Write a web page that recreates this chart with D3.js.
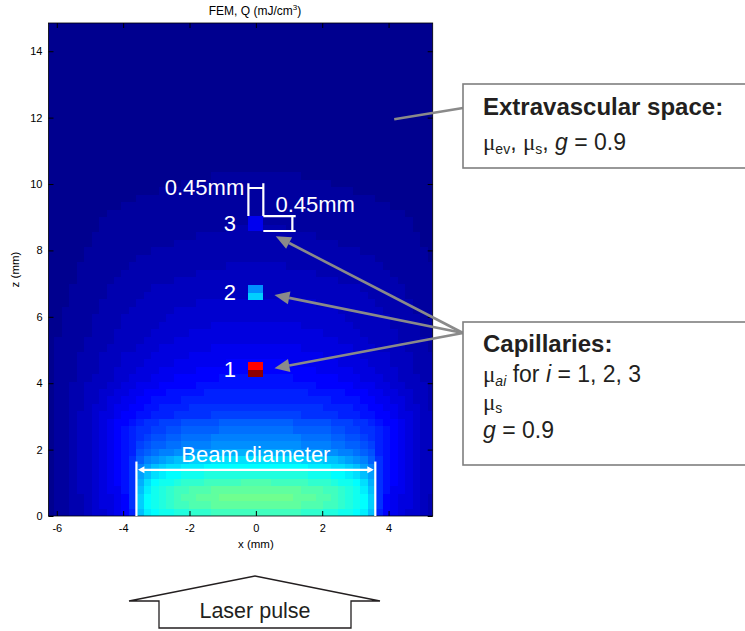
<!DOCTYPE html>
<html>
<head>
<meta charset="utf-8">
<script src="https://cdn.jsdelivr.net/npm/d3@7"></script>
<style>
  html, body { margin: 0; padding: 0; background: #ffffff; }
  svg { display: block; font-family: "Liberation Sans", Arial, Helvetica, sans-serif; }
</style>
</head>
<body>
<svg id="chart" width="745" height="631"></svg>
<script>
// ---------------------------------------------------------------------------
// Data
// ---------------------------------------------------------------------------
// FEM fluence Q(x, z) sampled on a 0.225 mm grid and stored as 64-step jet
// colour levels. Each row is run-length coded ("level*count"), 52 columns from
// x = -6.3 mm rightwards; rows run from the deepest (top of plot) to z = 0.
const cellSize = 0.225;   // mm
const gridX0 = -6.3;      // left edge of column 0 (mm)
const nCols = 52;
const qRows = [
  "0*52", "0*52", "0*52", "0*52", "0*52", "0*52", "0*52",
  "0*52", "0*52", "0*52", "0*52", "0*52", "0*52", "0*52",
  "0*52", "0*52", "0*52", "0*52", "0*52", "0*52", "0*52",
  "0*22 1*12 0*18",
  "0*18 1*20 0*14",
  "0*15 1*26 0*11",
  "0*12 1*32 0*8",
  "0*10 1*36 0*6",
  "0*8 1*40 0*4",
  "0*7 1*42 0*3",
  "0*7 1*17 2*8 1*17 0*3",
  "0*6 1*14 2*16 1*14 0*2",
  "0*6 1*11 2*22 1*11 0*2",
  "0*5 1*9 2*28 1*9 0",
  "0*5 1*7 2*32 1*7 0",
  "0*4 1*7 2*13 3*8 2*13 1*7",
  "0*4 1*6 2*10 3*16 2*10 1*6",
  "0*4 1*5 2*8 3*22 2*8 1*5",
  "0*3 1*5 2*6 3*28 2*6 1*4",
  "0*3 1*5 2*5 3*30 2*5 1*4",
  "0*3 1*4 2*5 3*8 4*16 3*8 2*5 1*3",
  "0*2 1*5 2*4 3*6 4*22 3*6 2*4 1*3",
  "0*2 1*4 2*4 3*6 4*24 3*6 2*4 1*2",
  "0*2 1*4 2*4 3*5 4*7 5*12 4*7 3*5 2*4 1*2",
  "0*2 1*4 2*3 3*5 4*5 5*18 4*5 3*5 2*3 1*2",
  "0 1*4 2*4 3*4 4*4 5*22 4*4 3*4 2*4 1",
  "0 1*4 2*3 3*4 4*3 5*7 6*12 5*7 4*3 3*4 2*3 1",
  "0 1*3 2*3 3*3 4*4 5*5 6*18 5*5 4*4 3*3 2*3",
  "0 1*3 2*3 3*3 4*3 5*4 6*7 7*8 6*7 5*4 4*3 3*3 2*3",
  "0 1*3 2*3 3*2 4*3 5*3 6*5 7*16 6*5 5*3 4*3 3*2 2*3",
  "0 1*3 2*2 3*3 4*2 5*3 6*3 7*6 8*10 7*6 6*3 5*3 4*2 3*3 2*2",
  "0 1*2 2*2 3*3 4*2 5*2 6*3 7*5 8*16 7*5 6*3 5*2 4*2 3*3 2",
  "0 1*2 2*2 3*2 4*2 5*2 6*2 7*3 8*5 9*14 8*5 7*3 6*2 5*2 4*2 3*2 2",
  "0 1*2 2*2 3*2 4 5*2 6*2 7*2 8*4 9*20 8*4 7*2 6*2 5*2 4 3*2 2",
  "0 1*2 2*2 3 4*2 5 6*2 7*2 8*2 9*4 10*18 9*4 8*2 7*2 6*2 5 4*2 3 2",
  "0 1*2 2 3*2 4 5*2 6 7*2 8*2 9*3 10*5 11*12 10*5 9*3 8*2 7*2 6 5*2 4 3*2",
  "0 1*2 2 3*2 4 5 6 7*2 8 9 10*2 11*3 12*5 13*10 12*5 11*3 10*2 9 8 7*2 6 5 4 3*2",
  "0 1*2 2 3*2 4 5 6 7 8 9 10*2 11*2 12*2 13*5 14*10 13*5 12*2 11*2 10*2 9 8 7 6 5 4 3*2",
  "0 1*2 2 3*2 4 5 6 7 8 9 10 11 12*2 13*2 14*4 15*12 14*4 13*2 12*2 11 10 9 8 7 6 5 4 3*2",
  "0 1*2 2 3*2 4 5 6 7 8 9 11 12 13*2 14*2 15*4 16*12 15*4 14*2 13*2 12 11 9 8 7 6 5 4 3*2",
  "0 1*2 2 3*2 4 5 6 7 8 9 12 13 14 15*2 16*2 17*4 18*10 17*4 16*2 15*2 14 13 12 9 8 7 6 5 4 3*2",
  "0 1*2 2 3*2 4 5 6 7 8 10 13 15 16 17 18 19*2 20*3 21*12 20*3 19*2 18 17 16 15 13 10 8 7 6 5 4 3*2",
  "0 1*2 2 3*2 4 5 6 7 8 10 15 17 19 20 21*2 22*3 23*14 22*3 21*2 20 19 17 15 10 8 7 6 5 4 3*2",
  "0 1*2 2 3*2 4 5 6 7 8 10 17 19 21 22 23*2 24*3 25*14 24*3 23*2 22 21 19 17 10 8 7 6 5 4 3*2",
  "0 1*2 2 3*2 4 5 6 7 8 10 18 21 23 24*2 25 26*3 27*5 28*4 27*5 26*3 25 24*2 23 21 18 10 8 7 6 5 4 3*2",
  "0 1*2 2 3*2 4 5 6*2 8 10 19 22 24 25 26 27*2 28*3 29*12 28*3 27*2 26 25 24 22 19 10 8 6*2 5 4 3*2",
  "0 1*2 2*2 3 4 5*2 6 7 10 20 23 24 25 26 27 28*2 29*3 30*10 29*3 28*2 27 26 25 24 23 20 10 7 6 5*2 4 3 2",
  "0 1*2 2*2 3 4 5*2 6 7 10 20 23 24 25 26 27*2 28*3 29*12 28*3 27*2 26 25 24 23 20 10 7 6 5*2 4 3 2",
  "0 1*2 2*2 3 4*2 5 6 7 9 19 22 23 24*2 25*2 26*3 27*12 26*3 25*2 24*2 23 22 19 9 7 6 5 4*2 3 2"
];

// Capillaries: 0.45 mm squares on the beam axis, upper / lower half levels
const capillaryLabels = ["1", "2", "3"];
const capillaryDepth = [4.40, 6.72, 8.81];      // centre depth z (mm)
const capillaryLevelTop = [55, 16, 6];
const capillaryLevelBottom = [62, 20, 6];
const capillarySize = 0.45;                       // mm

const beamDiameter = 7.2;                         // mm
const xTicks = [-6, -4, -2, 0, 2, 4];
const zTicks = [0, 2, 4, 6, 8, 10, 12, 14];

// ---------------------------------------------------------------------------
// Colour map: MATLAB-style jet with 64 steps
// ---------------------------------------------------------------------------
function jetPalette(n) {
  const m = n / 4, len = 3 * m - 1;
  const off = Math.ceil(m / 2) - (n % 4 === 1 ? 1 : 0);
  const u = k => (k < 1 || k > len) ? 0 : (k <= m ? k / m : (k < 2 * m ? 1 : (3 * m - k) / m));
  const out = [];
  for (let i = 1; i <= n; i++) {
    out.push(d3.rgb(255 * u(i - off - m), 255 * u(i - off), 255 * u(i - off + m)).formatHex());
  }
  return out;
}
const jet = jetPalette(64);
const color = d3.scaleQuantize().domain([0, 64]).range(jet);

function decodeRow(s) {
  const out = [];
  s.trim().split(/\s+/).forEach(tok => {
    const [lv, n] = tok.split("*");
    const count = n === undefined ? 1 : +n;
    for (let k = 0; k < count; k++) out.push(+lv);
  });
  return out;
}

// ---------------------------------------------------------------------------
// Layout
// ---------------------------------------------------------------------------
const svg = d3.select("#chart");
const plot = { left: 48.5, right: 432.7, top: 23, bottom: 516 };
const x = d3.scaleLinear().domain([-6.25, 5.33]).range([plot.left, plot.right]);
const z = d3.scaleLinear().domain([0, 14.85]).range([plot.bottom, plot.top]);

svg.append("defs").append("clipPath").attr("id", "plotClip")
  .append("rect")
  .attr("x", plot.left).attr("y", plot.top)
  .attr("width", plot.right - plot.left).attr("height", plot.bottom - plot.top);

// Heat map cells
const cells = [];
qRows.forEach((row, k) => {
  const j = qRows.length - 1 - k;          // depth index from the surface
  const levels = decodeRow(row);
  for (let i = 0; i < nCols; i++) {
    const lv = levels[i] !== undefined ? levels[i] : levels[levels.length - 1];
    cells.push({ x0: gridX0 + i * cellSize, z0: j * cellSize, level: lv });
  }
});

const heat = svg.append("g").attr("clip-path", "url(#plotClip)");
heat.selectAll("rect.cell").data(cells).join("rect")
  .attr("class", "cell")
  .attr("x", d => Math.round(x(d.x0)))
  .attr("y", d => Math.round(z(d.z0 + cellSize)))
  .attr("width", d => Math.round(x(d.x0 + cellSize)) - Math.round(x(d.x0)))
  .attr("height", d => Math.round(z(d.z0)) - Math.round(z(d.z0 + cellSize)))
  .attr("fill", d => color(d.level + 0.5))
  .attr("shape-rendering", "crispEdges");

// Capillaries (two half-cells each)
const capHalves = [];
capillaryDepth.forEach((zc, i) => {
  const h = capillarySize / 2;
  capHalves.push({ x0: -h, x1: h, z0: zc, z1: zc + h, level: capillaryLevelTop[i] });
  capHalves.push({ x0: -h, x1: h, z0: zc - h, z1: zc, level: capillaryLevelBottom[i] });
});
heat.selectAll("rect.cap").data(capHalves).join("rect")
  .attr("class", "cap")
  .attr("x", d => Math.round(x(d.x0)))
  .attr("y", d => Math.round(z(d.z1)))
  .attr("width", d => Math.round(x(d.x1)) - Math.round(x(d.x0)))
  .attr("height", d => Math.round(z(d.z0)) - Math.round(z(d.z1)))
  .attr("fill", d => color(d.level + 0.5))
  .attr("shape-rendering", "crispEdges");

// ---------------------------------------------------------------------------
// Axes (ticks pointing inward, box on all four sides)
// ---------------------------------------------------------------------------
const tickFont = 11;
const plain = d => String(d);
const axB = svg.append("g").attr("transform", `translate(0,${plot.bottom})`)
  .call(d3.axisBottom(x).tickValues(xTicks).tickFormat(plain).tickSizeInner(-5).tickSizeOuter(0).tickPadding(8));
const axL = svg.append("g").attr("transform", `translate(${plot.left},0)`)
  .call(d3.axisLeft(z).tickValues(zTicks).tickFormat(plain).tickSizeInner(-5).tickSizeOuter(0).tickPadding(6));
const axT = svg.append("g").attr("transform", `translate(0,${plot.top})`)
  .call(d3.axisTop(x).tickValues(xTicks).tickSizeInner(-5).tickSizeOuter(0).tickFormat(""));
const axR = svg.append("g").attr("transform", `translate(${plot.right},0)`)
  .call(d3.axisRight(z).tickValues(zTicks).tickSizeInner(-5).tickSizeOuter(0).tickFormat(""));
[axB, axL, axT, axR].forEach(g => {
  g.select(".domain").remove();
  g.selectAll(".tick line").attr("stroke", "#000").attr("stroke-width", 1);
  g.selectAll(".tick text").attr("fill", "#000")
    .style("font-family", "'Liberation Sans', Arial, sans-serif")
    .style("font-size", tickFont + "px");
});
svg.append("rect")
  .attr("x", plot.left).attr("y", plot.top)
  .attr("width", plot.right - plot.left).attr("height", plot.bottom - plot.top)
  .attr("fill", "none").attr("stroke", "#000").attr("stroke-width", 0.8);

// Titles
const title = svg.append("text").attr("x", 255).attr("y", 15)
  .attr("text-anchor", "middle").attr("font-size", 12).attr("fill", "#000");
title.append("tspan").text("FEM, Q (mJ/cm");
title.append("tspan").attr("font-size", 8).attr("dy", -5).text("3");
title.append("tspan").attr("dy", 5).text(")");

svg.append("text").attr("x", x(0)).attr("y", 548)
  .attr("text-anchor", "middle").attr("font-size", 11.5).attr("fill", "#000").text("x (mm)");
svg.append("text").attr("transform", `translate(19,${(plot.top + plot.bottom) / 2}) rotate(-90)`)
  .attr("text-anchor", "middle").attr("font-size", 11.5).attr("fill", "#000").text("z (mm)");

// ---------------------------------------------------------------------------
// White annotations inside the plot
// ---------------------------------------------------------------------------
const white = svg.append("g").attr("stroke", "#fff").attr("fill", "none").attr("stroke-width", 2.2);
const rb = beamDiameter / 2;
// beam edges and diameter arrow
white.append("line").attr("x1", x(-rb)).attr("x2", x(-rb)).attr("y1", z(0)).attr("y2", z(1.64));
white.append("line").attr("x1", x(rb)).attr("x2", x(rb)).attr("y1", z(0)).attr("y2", z(1.64));
const arrowZ = 1.39;
white.append("line").attr("x1", x(-rb) + 6).attr("x2", x(rb) - 6).attr("y1", z(arrowZ)).attr("y2", z(arrowZ));
const headL = [[x(-rb) + 1.5, z(arrowZ)], [x(-rb) + 8, z(arrowZ) - 3.5], [x(-rb) + 8, z(arrowZ) + 3.5]];
const headR = [[x(rb) - 1.5, z(arrowZ)], [x(rb) - 8, z(arrowZ) - 3.5], [x(rb) - 8, z(arrowZ) + 3.5]];
[headL, headR].forEach(p => svg.append("polygon").attr("points", p.join(" ")).attr("fill", "#fff"));
svg.append("text").attr("x", x(0)).attr("y", z(1.64))
  .attr("text-anchor", "middle").attr("font-size", 22).attr("fill", "#fff").text("Beam diameter");

// capillary numbers
svg.selectAll("text.capLabel").data(capillaryLabels).join("text")
  .attr("class", "capLabel")
  .attr("x", x(-0.6))
  .attr("y", (d, i) => z(capillaryDepth[i] - capillarySize / 2))
  .attr("text-anchor", "end").attr("font-size", 22).attr("fill", "#fff")
  .text(d => d);

// 0.45 mm dimension marks on capillary 3
const c3 = capillaryDepth[2], hs = capillarySize / 2;
const dim = d3.path();
dim.moveTo(x(-hs), z(c3 + hs)); dim.lineTo(x(-hs), z(10.02));
dim.moveTo(x(hs), z(c3 + hs)); dim.lineTo(x(hs), z(10.02));
dim.moveTo(x(-hs), z(9.88)); dim.lineTo(x(hs), z(9.88));
dim.moveTo(x(hs), z(c3 + hs)); dim.lineTo(x(1.2), z(c3 + hs));
dim.moveTo(x(hs), z(c3 - hs)); dim.lineTo(x(1.2), z(c3 - hs));
dim.moveTo(x(1.1), z(c3 + hs)); dim.lineTo(x(1.1), z(c3 - hs));
white.append("path").attr("d", dim.toString());
svg.append("text").attr("x", x(-0.35)).attr("y", z(9.67))
  .attr("text-anchor", "end").attr("font-size", 22).attr("fill", "#fff").text("0.45mm");
svg.append("text").attr("x", x(0.59)).attr("y", z(9.17))
  .attr("text-anchor", "start").attr("font-size", 22).attr("fill", "#fff").text("0.45mm");

// ---------------------------------------------------------------------------
// Call-out boxes and grey pointers
// ---------------------------------------------------------------------------
const grey = "#8a8a8a";
function pointer(sx, sy, tx, ty, head) {
  const dx = tx - sx, dy = ty - sy, L = Math.hypot(dx, dy);
  const ux = dx / L, uy = dy / L;
  const bx = tx - ux * (head ? 15 : 0), by = ty - uy * (head ? 15 : 0);
  svg.append("line").attr("x1", sx).attr("y1", sy).attr("x2", bx).attr("y2", by)
    .attr("stroke", grey).attr("stroke-width", 2.6);
  if (head) {
    const nx = -uy, ny = ux, w = 6.5;
    svg.append("polygon")
      .attr("points", [[tx, ty], [bx + nx * w, by + ny * w], [bx - nx * w, by - ny * w]].join(" "))
      .attr("fill", grey);
  }
}
pointer(463, 108, x(4.17), z(11.95), false);
pointer(463, 333, x(0.6), z(8.43), true);
pointer(463, 333, x(0.56), z(6.66), true);
pointer(463, 333, x(0.56), z(4.45), true);

const ink = "#231f20";
function box(y, h) {
  svg.append("rect").attr("x", 463).attr("y", y).attr("width", 300).attr("height", h)
    .attr("fill", "#fff").attr("stroke", "#7f7f7f").attr("stroke-width", 1.6);
}
box(84, 84);
box(322, 143);

const sym = "'Liberation Serif', 'DejaVu Serif', serif";
svg.append("text").attr("x", 483).attr("y", 115).attr("font-size", 24)
  .attr("font-weight", "bold").attr("fill", ink).text("Extravascular space:");
const ev = svg.append("text").attr("x", 483).attr("y", 150).attr("font-size", 23).attr("fill", ink);
ev.append("tspan").style("font-family", sym).text("\u03bc");
ev.append("tspan").attr("font-size", 14).attr("dy", 4).text("ev");
ev.append("tspan").attr("dy", -4).text(", ");
ev.append("tspan").style("font-family", sym).text("\u03bc");
ev.append("tspan").attr("font-size", 14).attr("dy", 4).text("s");
ev.append("tspan").attr("dy", -4).text(", ");
ev.append("tspan").attr("font-style", "italic").text("g");
ev.append("tspan").text(" = 0.9");

svg.append("text").attr("x", 483).attr("y", 352).attr("font-size", 24)
  .attr("font-weight", "bold").attr("fill", ink).text("Capillaries:");
const ca = svg.append("text").attr("x", 483).attr("y", 382).attr("font-size", 23).attr("fill", ink);
ca.append("tspan").style("font-family", sym).text("\u03bc");
ca.append("tspan").attr("font-size", 14).attr("dy", 4).attr("font-style", "italic").text("ai");
ca.append("tspan").attr("dy", -4).text(" for ");
ca.append("tspan").attr("font-style", "italic").text("i");
ca.append("tspan").text(" = 1, 2, 3");
const cs = svg.append("text").attr("x", 483).attr("y", 410).attr("font-size", 23).attr("fill", ink);
cs.append("tspan").style("font-family", sym).text("\u03bc");
cs.append("tspan").attr("font-size", 14).attr("dy", 3).text("s");
const cg = svg.append("text").attr("x", 483).attr("y", 438).attr("font-size", 23).attr("fill", ink);
cg.append("tspan").attr("font-style", "italic").text("g");
cg.append("tspan").text(" = 0.9");

// ---------------------------------------------------------------------------
// Laser pulse arrow below the plot
// ---------------------------------------------------------------------------
const pulse = [[129, 601], [255, 576], [380, 601], [351, 601], [351, 628], [159, 628], [159, 601], [129, 601]];
svg.append("path").attr("d", d3.line()(pulse) + "Z")
  .attr("fill", "#fff").attr("stroke", ink).attr("stroke-width", 1.3).attr("stroke-linejoin", "miter");
svg.append("text").attr("x", 255).attr("y", 618).attr("text-anchor", "middle")
  .attr("font-size", 21.5).attr("fill", ink).text("Laser pulse");
</script>
</body>
</html>
